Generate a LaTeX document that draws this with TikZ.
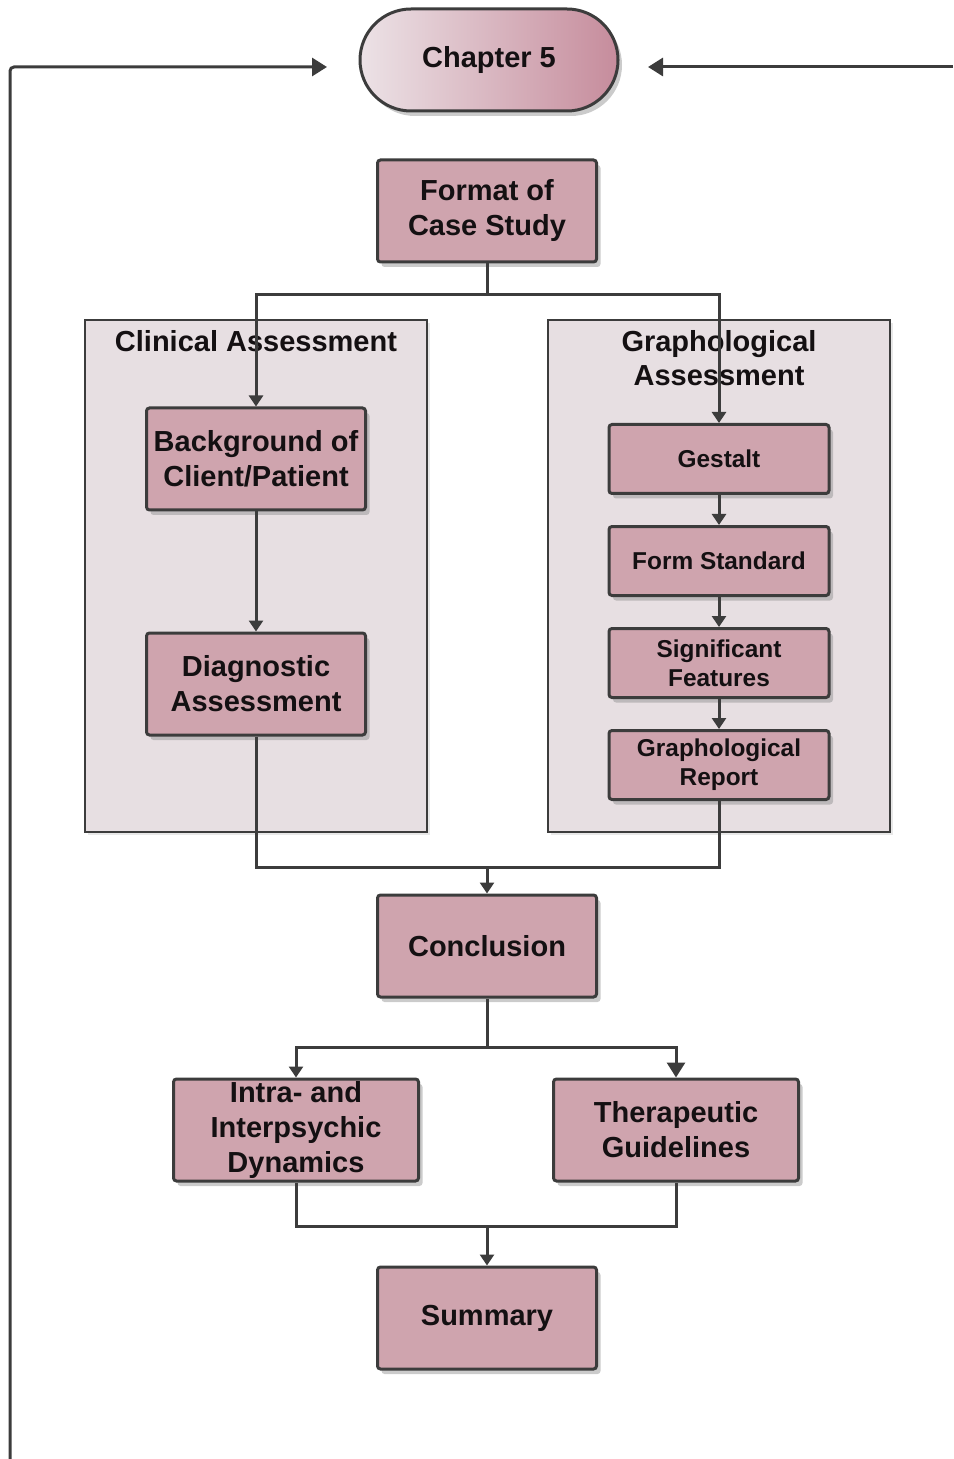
\documentclass[tikz,border=0pt]{standalone}
\usepackage{fontspec}
\setmainfont{Liberation Sans}
\usetikzlibrary{arrows.meta,shadows,calc}
\definecolor{boxfill}{RGB}{207,164,174}
\definecolor{panelfill}{RGB}{231,223,226}
\definecolor{edge}{RGB}{60,60,60}
\definecolor{ink}{RGB}{20,16,18}
\definecolor{pillL}{RGB}{236,226,230}
\definecolor{pillR}{RGB}{198,140,156}
\begin{document}
\begin{tikzpicture}[x=0.5pt,y=-0.5pt,
  softshadow/.style={drop shadow={shadow xshift=2pt,shadow yshift=-2.5pt,fill=black!45,opacity=.45}},
  bigbox/.style={draw=edge,line width=1.5pt,fill=boxfill,rounded corners=1.5pt,
    minimum width=109.5pt,minimum height=51pt,inner sep=1pt,align=center,
    text=ink,font=\bfseries\fontsize{14.5}{17.5}\selectfont,softshadow},
  smallbox/.style={bigbox,minimum width=110pt,minimum height=34.5pt,
    font=\bfseries\fontsize{12.2}{14.5}\selectfont},
  panel/.style={draw=edge,line width=1.3pt,fill=panelfill,
    drop shadow={shadow xshift=1.5pt,shadow yshift=-1.5pt,fill=black!30,opacity=.3}},
  paneltitle/.style={text=ink,align=center,font=\bfseries\fontsize{14.5}{17}\selectfont},
  wire/.style={draw=edge,line width=1.5pt},
  arr/.style={wire,-{Triangle[width=7pt,length=5.5pt]}},
  bigarr/.style={wire,-{Triangle[width=9pt,length=7.5pt]}}
]
\useasboundingbox (0,0) rectangle (953,1459);

% assessment panels
\path[panel] (85,320) rectangle (427,832);
\path[panel] (548,320) rectangle (890,832);
\node[paneltitle] (clintitle) at (256,341) {Clinical Assessment};
\node[paneltitle] (graphtitle) at (719,358) {Graphological\\Assessment};

% chapter heading
\node[draw=edge,line width=1.5pt,left color=pillL,right color=pillR,
  rounded corners=25.5pt,minimum width=129pt,minimum height=51pt,
  text=ink,font=\bfseries\fontsize{14.5}{17}\selectfont,softshadow]
  (chap) at (489,60) {Chapter 5};

% process boxes
\node[bigbox] (fmt) at (487,211) {Format of\\Case Study};
\node[bigbox] (bg) at (256,459) {Background of\\Client/Patient};
\node[bigbox] (diag) at (256,684) {Diagnostic\\Assessment};
\node[smallbox] (gest) at (719,459) {Gestalt};
\node[smallbox] (form) at (719,561) {Form Standard};
\node[smallbox] (sig) at (719,663) {Significant\\Features};
\node[smallbox] (rep) at (719,765) {Graphological\\Report};
\node[bigbox] (conc) at (487,946) {Conclusion};
\node[bigbox,minimum width=122.5pt] (intra) at (296,1130) {Intra- and\\Interpsychic\\Dynamics};
\node[bigbox,minimum width=122.5pt] (thera) at (676,1130) {Therapeutic\\Guidelines};
\node[bigbox] (summ) at (487,1318) {Summary};

% split from the case study format
\coordinate (split1) at ($(fmt.south)+(0,31)$);
\draw[wire] (fmt.south) -- (split1);
\draw[arr] (split1) -| (bg.north);
\draw[arr] (split1) -| (gest.north);

% inside the panels
\draw[arr] (bg.south) -- (diag.north);
\draw[arr] (gest.south) -- (form.north);
\draw[arr] (form.south) -- (sig.north);
\draw[arr] (sig.south) -- (rep.north);

% merge into the conclusion
\coordinate (merge1) at ($(conc.north)+(0,-26)$);
\draw[wire] (diag.south) |- (merge1);
\draw[wire] (rep.south) |- (merge1);
\draw[arr] (merge1) -- (conc.north);

% split after the conclusion
\coordinate (split2) at ($(conc.south)+(0,49)$);
\draw[wire] (conc.south) -- (split2);
\draw[arr] (split2) -| (intra.north);
\draw[bigarr] (split2) -| (thera.north);

% merge into the summary
\coordinate (merge2) at ($(summ.north)+(0,-39)$);
\draw[wire] (intra.south) |- (merge2);
\draw[wire] (thera.south) |- (merge2);
\draw[arr] (merge2) -- (summ.north);

% feedback lines towards the chapter heading
\coordinate (loopL) at (10,1459);
\coordinate (loopLcorner) at (10,67);
\coordinate (tipL) at (327,67);
\coordinate (loopR) at (953,67);
\coordinate (tipR) at (648,67);
\draw[bigarr,rounded corners=2pt] (loopL) -- (loopLcorner) -- (tipL);
\draw[bigarr] (loopR) -- (tipR);
\end{tikzpicture}
\end{document}
